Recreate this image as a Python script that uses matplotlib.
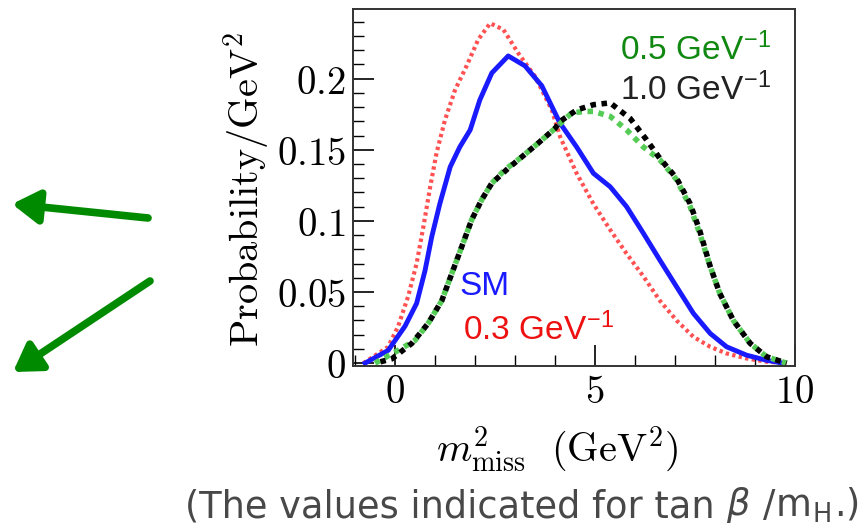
import matplotlib
matplotlib.use("Agg")
import matplotlib.pyplot as plt
from matplotlib.ticker import MultipleLocator, FuncFormatter
from matplotlib.patches import FancyArrowPatch

plt.rcParams['mathtext.fontset'] = 'cm'

# Data
x_red = [-0.79, -0.17, 0.08, 0.33, 0.54, 0.71, 0.88, 1.04, 1.25, 1.5, 1.79, 2.08, 2.38, 2.71, 3.08, 3.5, 3.92, 4.13,
         4.54, 4.96, 5.38, 5.79, 6.21, 6.62, 7.04, 7.46, 7.88, 8.29, 8.79, 9.29, 9.79]
y_red = [0.0, 0.0115, 0.026, 0.047, 0.070, 0.096, 0.124, 0.148, 0.171, 0.192, 0.209, 0.2275, 0.239, 0.2345, 0.218, 0.2016, 0.178, 0.159,
         0.1335, 0.112, 0.0937, 0.077, 0.061, 0.044, 0.030, 0.0185, 0.0115, 0.0068, 0.0033, 0.001, 0.0]

x_sm = [-0.75, -0.17, 0.25, 0.54, 0.75, 0.92, 1.12, 1.38, 1.62, 1.88, 2.12, 2.42, 2.83, 3.25, 3.67, 4.12,
        4.54, 4.96, 5.38, 5.79, 6.21, 6.62, 7.04, 7.46, 7.88, 8.29, 8.79, 9.29, 9.7]
y_sm = [0.0, 0.009, 0.026, 0.042, 0.065, 0.089, 0.112, 0.138, 0.152, 0.164, 0.185, 0.204, 0.216, 0.209, 0.195, 0.169,
        0.152, 0.1335, 0.124, 0.110, 0.0913, 0.0725, 0.0537, 0.035, 0.0209, 0.0115, 0.0056, 0.002, 0.0]

x_g = [-0.5, 0.08, 0.5, 0.83, 1.17, 1.42, 1.67, 1.92, 2.17, 2.42, 2.75, 3.17, 3.58, 4.0, 4.42,
       4.75, 4.96, 5.38, 5.79, 6.21, 6.62, 7.04, 7.38, 7.62, 7.88, 8.12, 8.46, 8.88, 9.29, 9.79]
y_g = [0.0, 0.009, 0.016, 0.028, 0.044, 0.063, 0.082, 0.101, 0.115, 0.1265, 0.136, 0.145, 0.1547, 0.165, 0.176,
       0.177, 0.177, 0.1735, 0.164, 0.152, 0.143, 0.129, 0.110, 0.091, 0.068, 0.049, 0.030, 0.0139, 0.0045, 0.0]

x_k = [-0.5, -0.08, 0.42, 0.83, 1.17, 1.42, 1.67, 1.92, 2.17, 2.42, 2.83, 3.17, 3.58, 4.0, 4.13,
       4.54, 4.96, 5.38, 5.88, 6.29, 6.62, 7.04, 7.38, 7.62, 7.88, 8.12, 8.46, 8.88, 9.29, 9.79]
y_k = [0.0, 0.003, 0.0139, 0.028, 0.044, 0.063, 0.082, 0.101, 0.115, 0.1265, 0.137, 0.145, 0.1547, 0.165, 0.170,
       0.178, 0.1817, 0.183, 0.172, 0.157, 0.144, 0.130, 0.112, 0.093, 0.068, 0.049, 0.030, 0.0139, 0.0045, 0.0]

x_ticks = [0, 5, 10]
y_ticks = [0, 0.05, 0.1, 0.15, 0.2]

fig = plt.figure(figsize=(8.64, 5.31), dpi=100)
ax = fig.add_axes([353/864, 1-366/531, (795-353)/864, (366-9)/531])

ax.plot(x_red, y_red, color='#ff3333', lw=3.0, linestyle=(0, (0.8, 0.8)), alpha=0.85)
ax.plot(x_sm, y_sm, color='#1a1aff', lw=3.5)
ax.plot(x_g, y_g, color='#55cc55', lw=4, linestyle=(0, (1, 1)))
ax.plot(x_k, y_k, color='black', lw=4, linestyle=(1, (1, 1)))

ax.set_xlim(-1.05, 10.0)
ax.set_ylim(-0.002, 0.249)
ax.set_xticks(x_ticks)
ax.set_yticks(y_ticks)
ax.xaxis.set_minor_locator(MultipleLocator(1))
ax.yaxis.set_minor_locator(MultipleLocator(0.01))

def fmt(v, pos):
    return '$%g$' % v
ax.xaxis.set_major_formatter(FuncFormatter(fmt))
ax.yaxis.set_major_formatter(FuncFormatter(fmt))

ax.tick_params(which='major', direction='in', length=15, width=1.2, labelsize=28, pad=5)
ax.tick_params(which='minor', direction='in', length=8, width=1.0)
for s in ax.spines.values():
    s.set_linewidth(1.4)
    s.set_color('#333333')

ax.set_ylabel(r'$\mathrm{Probability/GeV^2}$', fontsize=29, va='center')
ax.yaxis.set_label_coords((247-353)/442, (366-190)/357)
ax.set_xlabel(r'$m^2_{\rm miss}\ \ (\mathrm{GeV}^2)$', fontsize=29, va='center')
ax.xaxis.set_label_coords((557-353)/442, (366-450)/357)

tf = dict(family='Liberation Sans', fontsize=24, va='baseline')
ax.text(9.4, 0.2134, r'0.5 GeV$^{\mathregular{-1}}$', color='#118811', ha='right', **tf)
ax.text(9.4, 0.185, r'1.0 GeV$^{\mathregular{-1}}$', color='#222222', ha='right', **tf)
ax.text(1.62, 0.048, 'SM', color='#1a1aff', ha='left', **tf)
ax.text(1.69, 0.0162, r'0.3 GeV$^{\mathregular{-1}}$', color='#ee1111', ha='left', **tf)

cf = dict(family='DejaVu Sans', fontsize=26.5, color='#484848')
t1 = fig.text(185/864, 1-517/531, '(The values indicated for tan ', ha='left', va='baseline', **cf)
t2 = plt.annotate(r'$\beta$', xy=(1, 0), xycoords=t1, ha='left', va='bottom',
                  annotation_clip=False, fontsize=26.5, color='#484848')
t2.set_math_fontfamily('dejavusans')
t3 = plt.annotate(r' /m$_{\mathregular{H}}$.)', xy=(1, 0), xycoords=t2, ha='left', va='bottom',
                  annotation_clip=False, **cf)

green = '#008a00'
for (p0, p1) in [((148, 218), (12, 204)), ((150, 281), (13, 372))]:
    fig.add_artist(FancyArrowPatch((p0[0]/864, 1-p0[1]/531), (p1[0]/864, 1-p1[1]/531),
                   transform=fig.transFigure, arrowstyle='-|>,head_length=16,head_width=10',
                   color=green, lw=5.5, mutation_scale=1, shrinkA=0, shrinkB=0))

fig.savefig('out.png', dpi=100)
